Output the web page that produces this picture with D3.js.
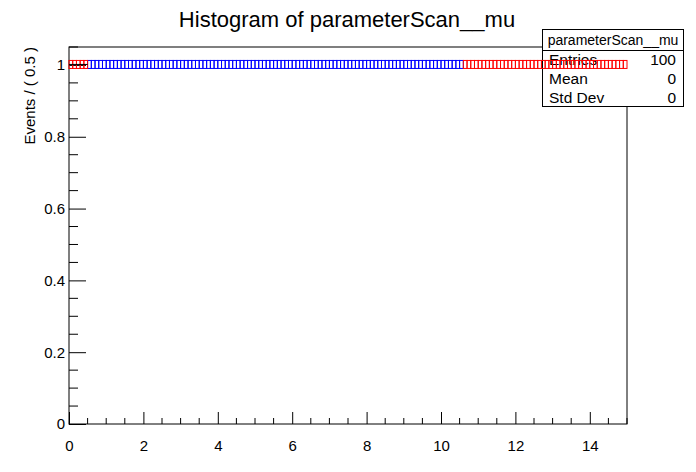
<!DOCTYPE html>
<html>
<head>
<meta charset="utf-8">
<script src="https://cdn.jsdelivr.net/npm/d3@7"></script>
<style>
  body { margin: 0; background: #fff; }
  svg { display: block; font-family: "Liberation Sans", Arial, sans-serif; }
</style>
</head>
<body>
<svg id="chart" width="696" height="472"></svg>
<script>
// ---- data ----
const title = "Histogram of parameterScan__mu";
const yLabel = "Events / ( 0.5 )";
const xDomain = [0, 15];
const yDomain = [0, 1.05];
const xMajorTicks = [0, 2, 4, 6, 8, 10, 12, 14];
const yMajorTicks = [0, 0.2, 0.4, 0.6, 0.8, 1];
const binWidth = 0.1;
// scan points (bin centres) by status colour
const muRed = [0.05, 0.15, 0.25, 0.35, 0.45,
  10.65, 10.75, 10.85, 10.95, 11.05, 11.15, 11.25, 11.35, 11.45, 11.55,
  11.65, 11.75, 11.85, 11.95, 12.05, 12.15, 12.25, 12.35, 12.45, 12.55,
  12.65, 12.75, 12.85, 12.95, 13.05, 13.15, 13.25, 13.35, 13.45, 13.55,
  13.65, 13.75, 13.85, 13.95, 14.05, 14.15, 14.25, 14.35, 14.45, 14.55,
  14.65, 14.75, 14.85, 14.95];
const muBlue = [0.55, 0.65, 0.75, 0.85, 0.95, 1.05, 1.15, 1.25, 1.35, 1.45,
  1.55, 1.65, 1.75, 1.85, 1.95, 2.05, 2.15, 2.25, 2.35, 2.45,
  2.55, 2.65, 2.75, 2.85, 2.95, 3.05, 3.15, 3.25, 3.35, 3.45,
  3.55, 3.65, 3.75, 3.85, 3.95, 4.05, 4.15, 4.25, 4.35, 4.45,
  4.55, 4.65, 4.75, 4.85, 4.95, 5.05, 5.15, 5.25, 5.35, 5.45,
  5.55, 5.65, 5.75, 5.85, 5.95, 6.05, 6.15, 6.25, 6.35, 6.45,
  6.55, 6.65, 6.75, 6.85, 6.95, 7.05, 7.15, 7.25, 7.35, 7.45,
  7.55, 7.65, 7.75, 7.85, 7.95, 8.05, 8.15, 8.25, 8.35, 8.45,
  8.55, 8.65, 8.75, 8.85, 8.95, 9.05, 9.15, 9.25, 9.35, 9.45,
  9.55, 9.65, 9.75, 9.85, 9.95, 10.05, 10.15, 10.25, 10.35, 10.45,
  10.55];
const pointValue = 1;
// histogram bin (black)
const histBins = [{x0: 0, x1: 0.5, y: 1}];
// stats box
const statsTitle = "parameterScan__mu";
const statsLabels = ["Entries", "Mean", "Std Dev"];
const statsValues = ["100", "0", "0"];

// ---- layout ----
const svg = d3.select("#chart");
const m = {left: 69, right: 627, top: 47, bottom: 424};
const x = d3.scaleLinear().domain(xDomain).range([m.left, m.right]);
const y = d3.scaleLinear().domain(yDomain).range([m.bottom, m.top]);
const FONT = "Liberation Sans, Arial, sans-serif";

svg.append("rect").attr("width", 696).attr("height", 472).attr("fill", "#fff");

// frame
svg.append("rect")
  .attr("x", m.left).attr("y", m.top)
  .attr("width", m.right - m.left).attr("height", m.bottom - m.top)
  .attr("fill", "none").attr("stroke", "#000").attr("stroke-width", 1);

// x axis
const xMinor = d3.range(0, 15.001, 0.5).filter(v => !xMajorTicks.includes(v));
const gx = svg.append("g").attr("transform", `translate(0,${m.bottom})`);
gx.call(d3.axisBottom(x).tickValues(xMajorTicks).tickSize(-12).tickPadding(16).tickFormat(d3.format("d")))
  .call(g => g.select(".domain").remove())
  .call(g => g.selectAll("text").attr("font-size", 15).attr("font-family", FONT).attr("fill", "#000"));
gx.selectAll(".minor").data(xMinor).enter().append("line")
  .attr("x1", d => x(d)).attr("x2", d => x(d)).attr("y1", 0).attr("y2", -6)
  .attr("stroke", "#000");

// y axis
const yMinor = d3.range(0, 1.0501, 0.05).filter(v => !yMajorTicks.some(t => Math.abs(t - v) < 1e-6));
const gy = svg.append("g").attr("transform", `translate(${m.left},0)`);
gy.call(d3.axisLeft(y).tickValues(yMajorTicks).tickSize(-17).tickPadding(4).tickFormat(d => d === 0 || d === 1 ? d3.format("d")(d) : d3.format(".1f")(d)))
  .call(g => g.select(".domain").remove())
  .call(g => g.selectAll("text").attr("font-size", 15).attr("font-family", FONT).attr("fill", "#000"));
gy.selectAll(".minor").data(yMinor).enter().append("line")
  .attr("x1", 0).attr("x2", 9).attr("y1", d => y(d)).attr("y2", d => y(d))
  .attr("stroke", "#000");

// y label
svg.append("text")
  .attr("transform", `translate(35,${m.top}) rotate(-90)`)
  .attr("text-anchor", "end")
  .attr("font-size", 15)
  .text(yLabel);

// title
svg.append("text")
  .attr("x", 347).attr("y", 27)
  .attr("text-anchor", "middle")
  .attr("font-size", 22)
  .text(title);

// stats box (drawn below the data marks)
const sb = {x: 542.5, y: 29.5, w: 141, h: 77};
const sg = svg.append("g");
sg.append("rect").attr("x", sb.x).attr("y", sb.y).attr("width", sb.w).attr("height", sb.h)
  .attr("fill", "#fff").attr("stroke", "#000");
sg.append("line").attr("x1", sb.x).attr("x2", sb.x + sb.w).attr("y1", 50.5).attr("y2", 50.5).attr("stroke", "#000");
sg.append("text").attr("x", sb.x + sb.w / 2).attr("y", 45).attr("text-anchor", "middle")
  .attr("font-size", 14).text(statsTitle);
const rowY = [65, 84, 103];
sg.selectAll(".lab").data(statsLabels).enter().append("text")
  .attr("x", 549).attr("y", (d, i) => rowY[i]).attr("font-size", 15.5).text(d => d);
sg.selectAll(".val").data(statsValues).enter().append("text")
  .attr("x", 676).attr("y", (d, i) => rowY[i]).attr("text-anchor", "end").attr("font-size", 15.5).text(d => d);

// scan boxes
const boxH = 8;
function drawBoxes(data, color) {
  svg.append("g").selectAll("rect").data(data).enter().append("rect")
    .attr("x", d => x(d - binWidth / 2))
    .attr("width", d => x(d + binWidth / 2) - x(d - binWidth / 2))
    .attr("y", y(pointValue) - boxH / 2 - 0.5)
    .attr("height", boxH)
    .attr("fill", "none")
    .attr("stroke", color)
    .attr("stroke-width", 1);
}
drawBoxes(muBlue, "#0000ff");
drawBoxes(muRed, "#ff0000");

// histogram bin line
svg.append("g").selectAll("line").data(histBins).enter().append("line")
  .attr("x1", d => x(d.x0)).attr("x2", d => x(d.x1))
  .attr("y1", d => y(d.y) - 0.5).attr("y2", d => y(d.y) - 0.5)
  .attr("stroke", "#000").attr("stroke-width", 1);
</script>
</body>
</html>
